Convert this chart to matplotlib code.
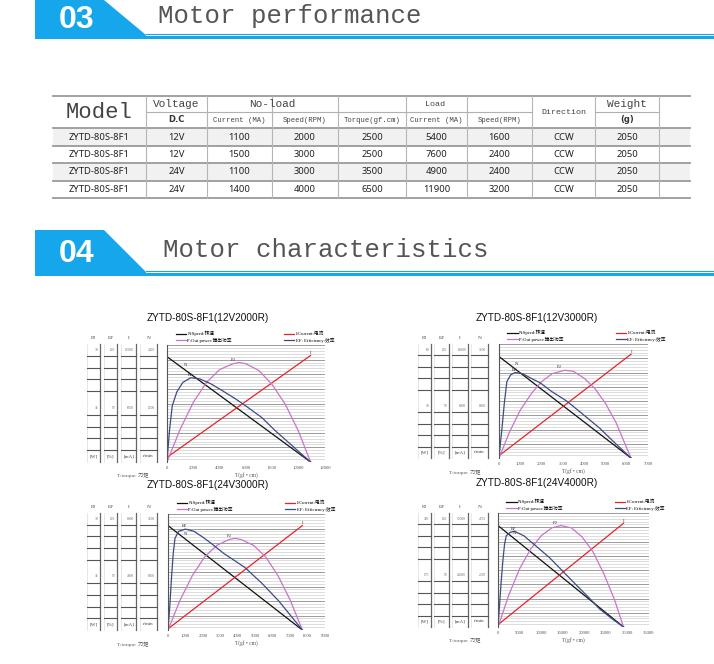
import numpy as np
import matplotlib
matplotlib.use('Agg')
import matplotlib.pyplot as plt
from matplotlib.patches import Polygon, Rectangle

W, H = 714, 664
BLUE = '#16a6ec'
CJK = ['Liberation Serif', 'Noto Sans CJK SC']

# table data
models = ['ZYTD-80S-8F1'] * 4
voltage = ['12V', '12V', '24V', '24V']
noload_current = [1100, 1500, 1100, 1400]
noload_speed = [2000, 3000, 3000, 4000]
load_torque = [2500, 2500, 3500, 6500]
load_current = [5400, 7600, 4900, 11900]
load_speed = [1600, 2400, 2400, 3200]
direction = ['CCW'] * 4
weight = [2050] * 4
sub_headers = ['D.C', 'Current (MA)', 'Speed(RPM)', 'Torque(gf.cm)', 'Current (MA)', 'Speed(RPM)', '', '(g)']

# chart data (y = % of full scale, x = torque gf.cm)
titles = ['ZYTD-80S-8F1(12V2000R)', 'ZYTD-80S-8F1(12V3000R)',
          'ZYTD-80S-8F1(24V3000R)', 'ZYTD-80S-8F1(24V4000R)']
xmax = [12000, 7000, 9000, 35000]
xstep = [2000, 1000, 1000, 5000]
stall = [10900, 6200, 7700, 29100]
speed_start = [90, 89, 90, 89]
current_start = [4, 2, 1, 2]
current_end = [91, 91, 90, 91]

power_x = [[0, 1000, 2000, 3000, 4000, 5000, 5500, 6000, 7000, 8000, 9000, 10000, 10900],
           [0, 500, 1000, 1500, 2000, 2500, 3100, 3500, 4000, 4500, 5000, 5500, 6200],
           [0, 700, 1400, 2100, 2800, 3500, 3850, 4200, 4900, 5600, 6300, 7000, 7700],
           [0, 2500, 5000, 7500, 10000, 12500, 14600, 17000, 19500, 22000, 24500, 27000, 29100]]
power_y = [[0, 28, 51, 68, 79, 84, 85, 84, 78, 66, 49, 26, 0],
           [0, 23, 42, 56, 67, 74, 77, 76, 70, 61, 48, 31, 0],
           [0, 26, 47, 63, 73, 78, 79, 78, 73, 63, 47, 26, 0],
           [0, 28, 51, 68, 80, 87, 89, 87, 79, 66, 47, 24, 0]]

eff_x = [[0, 80, 200, 400, 750, 1200, 1800, 2500, 3300, 4200, 5200, 6100, 7200, 8200, 9200, 10200, 10900],
         [0, 60, 140, 250, 370, 550, 760, 1100, 1500, 1930, 2500, 3180, 3900, 4740, 5400, 6200],
         [0, 100, 200, 300, 400, 600, 1000, 1500, 2000, 2450, 3200, 4400, 5400, 6350, 7000, 7700],
         [0, 300, 700, 1100, 1500, 1900, 2800, 3800, 6000, 8500, 11900, 15000, 18100, 21000, 23500, 26500, 29100]]
eff_y = [[0, 12, 28, 48, 60, 68, 72, 71, 67, 61, 54, 47, 38, 27, 17, 7, 0],
         [0, 12, 26, 48, 67, 73, 75, 74, 70, 66, 58, 50, 39, 26, 14, 0],
         [0, 20, 45, 66, 79, 85, 87, 85, 80, 75, 66, 54, 40, 25, 13, 0],
         [0, 16, 38, 57, 72, 80, 83, 84, 80, 72, 61, 49, 37, 26, 16, 7, 0]]

box_top = [['70', '100', '12000', '2400'], ['60', '100', '16000', '3200'],
           ['70', '100', '8000', '3200'], ['350', '100', '52000', '4700']]
box_mid = [['35', '50', '6000', '1200'], ['30', '50', '8000', '1600'],
           ['35', '50', '4000', '1600'], ['175', '50', '26000', '2350']]
box_head = ['P$_2$', 'EF', 'I', 'N']
box_units = ['[W]', '[%]', '[mA]', 'r/min']
legend_labels = ['N:Speed:转速', 'P:Out power:输出功率', 'I:Current:电流', 'EF: Efficiency:效率']

fig = plt.figure(figsize=(W / 100, H / 100), dpi=100)
bg = fig.add_axes([0, 0, 1, 1])
bg.set_xlim(0, W)
bg.set_ylim(H, 0)
bg.axis('off')


def px_axes(x0, y0, x1, y1):
    return fig.add_axes([x0 / W, 1 - y1 / H, (x1 - x0) / W, (y1 - y0) / H])


def banner(top, bottom, num, label, tx):
    bg.add_patch(Polygon([(35, top), (104, top), (146, bottom - 4), (146, bottom), (35, bottom)],
                         closed=True, color=BLUE, lw=0))
    bg.plot([146, W], [bottom - 5, bottom - 5], color=BLUE, lw=0.8)
    bg.add_patch(Rectangle((146, bottom - 3), W - 146, 3, color=BLUE, lw=0))
    bg.text(77, (top + bottom) / 2 + 1, num, color='white', fontsize=23, fontweight='bold',
            ha='center', va='center', family='Liberation Sans')
    bg.text(tx, (top + bottom) / 2 - 3, label, color='#555555', fontsize=18.5,
            ha='left', va='center', family='Liberation Mono')


banner(0, 39, '03', 'Motor performance', 158)
banner(230, 276, '04', 'Motor characteristics', 163)

# ---- table
col_x = [53, 146, 207, 272, 338, 406, 467, 532, 595, 659, 690]
row_y = [96, 112, 128, 146, 163, 181, 198]
for i in range(4):
    if i % 2 == 0:
        bg.add_patch(Rectangle((col_x[0], row_y[i + 2]), col_x[-1] - col_x[0],
                               row_y[i + 3] - row_y[i + 2], color='#f1f1f1', lw=0))
for y in [row_y[0]] + row_y[2:]:
    bg.plot([col_x[0], col_x[-1]], [y, y], color='#9a9a9a', lw=1.3)
for i in [1, 2, 3, 4, 5, 6, 8]:
    bg.plot([col_x[i], col_x[i + 1]], [row_y[1], row_y[1]], color='#b0b0b0', lw=0.8)
for x in col_x[1:-1]:
    bg.plot([x, x], [row_y[0], row_y[-1]], color='#b5b5b5', lw=0.8)

cx = [(col_x[i] + col_x[i + 1]) / 2 for i in range(len(col_x) - 1)]
hy1 = (row_y[0] + row_y[1]) / 2
hy2 = (row_y[1] + row_y[2]) / 2
mono = dict(family='Liberation Mono', color='#444444', ha='center', va='center')
bg.text(cx[0], (row_y[0] + row_y[2]) / 2, 'Model', fontsize=16, **mono)
bg.text(cx[1], hy1, 'Voltage', fontsize=8, **mono)
bg.text((col_x[2] + col_x[4]) / 2, hy1, 'No-load', fontsize=8, **mono)
bg.text((col_x[4] + col_x[7]) / 2, hy1, 'Load', fontsize=6, **mono)
bg.text(cx[7], (row_y[0] + row_y[2]) / 2, 'Direction', fontsize=6, **mono)
bg.text(cx[8], hy1, 'Weight', fontsize=8, **mono)
for i, s in enumerate(sub_headers):
    if not s:
        continue
    if s in ('D.C', '(g)'):
        bg.text(cx[i + 1], hy2, s, fontsize=6, ha='center', va='center',
                family='DejaVu Sans', color='#333333', fontweight='bold')
    else:
        bg.text(cx[i + 1], hy2, s, fontsize=5.2, **mono)

rows = list(zip(models, voltage, noload_current, noload_speed, load_torque,
                load_current, load_speed, direction, weight))
for r, vals in enumerate(rows):
    yc = (row_y[r + 2] + row_y[r + 3]) / 2
    for c, v in enumerate(vals):
        bg.text(cx[c], yc, str(v), fontsize=6.8, ha='center', va='center',
                family='Noto Sans', color='#222222')

# ---- charts
layout = [  # plot box, scale-box columns, scale-box y range, title pos
    dict(plot=(167, 345, 325, 462), cols=[(87, 100), (104, 117), (121, 136), (140, 157)],
         box=(344, 462), title=(208, 318), tq=(133, 475)),
    dict(plot=(499, 344, 648, 458), cols=[(418, 431), (434, 449), (452, 468), (471, 488)],
         box=(344, 458), title=(537, 318), tq=(465, 472)),
    dict(plot=(168, 514, 325, 630), cols=[(87, 100), (104, 117), (121, 136), (140, 157)],
         box=(513, 630), title=(208, 485), tq=(133, 644)),
    dict(plot=(498, 513, 649, 627), cols=[(418, 431), (434, 449), (452, 468), (471, 488)],
         box=(513, 627), title=(537, 483), tq=(465, 640)),
]

for k, L in enumerate(layout):
    bg.text(L['title'][0], L['title'][1], titles[k], fontsize=7.2, ha='center', va='center',
            family='Liberation Sans', color='#111111')
    b0, b1 = L['box']
    h = (b1 - b0) / 10
    for j, (x0, x1) in enumerate(L['cols']):
        bg.plot([x1, x1], [b0, b1], color='#666666', lw=0.9)
        bg.plot([x0, x0], [b0, b1], color='#dddddd', lw=0.5)
        for m in [1, 2, 3, 4, 6, 7, 8, 9]:
            bg.plot([x0, x1], [b0 + m * h, b0 + m * h], color='#555555', lw=0.8)
        bg.text((x0 + x1) / 2, b0 - 6, box_head[j], fontsize=3.8, ha='center', va='center',
                family='Liberation Serif', color='#444444')
        bg.text(x1 - 2, b0 + 0.5 * h, box_top[k][j], fontsize=2.6, ha='right', va='center',
                family='Liberation Serif', color='#666666')
        bg.text(x1 - 2, b0 + 5.4 * h, box_mid[k][j], fontsize=2.6, ha='right', va='center',
                family='Liberation Serif', color='#666666')
        bg.text((x0 + x1) / 2, b0 + 9.5 * h, box_units[j], fontsize=3.6, ha='center', va='center',
                family='Liberation Serif', color='#444444')
    bg.text(L['tq'][0], L['tq'][1], 'T:torque: 力矩', fontsize=3.8, ha='center', va='center',
            family=CJK, color='#555555')

    ax = px_axes(*L['plot'])
    ax.set_xlim(0, xmax[k])
    ax.set_ylim(0, 100)
    for g in np.arange(0, 100.1, 2.5):
        major = abs(g / 12.5 - round(g / 12.5)) < 1e-6
        ax.axhline(g, color='#8c8c8c' if major else '#cfcfcf', lw=0.6 if major else 0.5, zorder=0)
    for s in ['top', 'right', 'bottom']:
        ax.spines[s].set_visible(False)
    ax.spines['left'].set_color('#555555')
    ax.spines['left'].set_linewidth(0.8)
    ax.set_yticks([])
    ax.set_xticks(np.arange(0, xmax[k] + 1, xstep[k]))
    ax.tick_params(axis='x', length=0, labelsize=3.4, labelcolor='#555555', pad=3)
    for t in ax.get_xticklabels():
        t.set_family('Liberation Serif')
    ax.set_xlabel('T(gf • cm)', fontsize=4, color='#555555', labelpad=1.5, family='Liberation Serif')
    ax.patch.set_alpha(0)

    ln_n, = ax.plot([0, stall[k]], [speed_start[k], 0], color='#111111', lw=0.9)
    ln_i, = ax.plot([0, stall[k]], [current_start[k], current_end[k]], color='#e3242b', lw=0.9)
    ln_p, = ax.plot(power_x[k], power_y[k], color='#c875c8', lw=0.9)
    ln_e, = ax.plot(eff_x[k], eff_y[k], color='#3d4b85', lw=0.9)

    tfont = dict(fontsize=3.4, family='Liberation Serif', color='#333333')
    ax.text(stall[k] * 0.12, speed_start[k] * 0.88 + 3, 'N', **tfont)
    ax.text(stall[k] * 0.995, current_end[k] + 1.5, 'I', **tfont)
    ip = int(np.argmax(power_y[k]))
    ax.text(power_x[k][ip] - xmax[k] * 0.06, power_y[k][ip] + 1.5, 'P$_2$', **tfont)
    ie = int(np.argmax(eff_y[k]))
    ax.text(eff_x[k][ie] - xmax[k] * 0.02, eff_y[k][ie] + 1.5, 'EF', **tfont)

    ax.legend([ln_n, ln_p, ln_i, ln_e], legend_labels, ncol=2, loc='lower left',
              bbox_to_anchor=(0.04, 1.0), frameon=False, handlelength=2.2,
              handletextpad=0.3, columnspacing=11, labelspacing=0.25, borderaxespad=0.1,
              prop={'family': CJK, 'size': 3.4})

fig.savefig('out.png', dpi=100, facecolor='white')
